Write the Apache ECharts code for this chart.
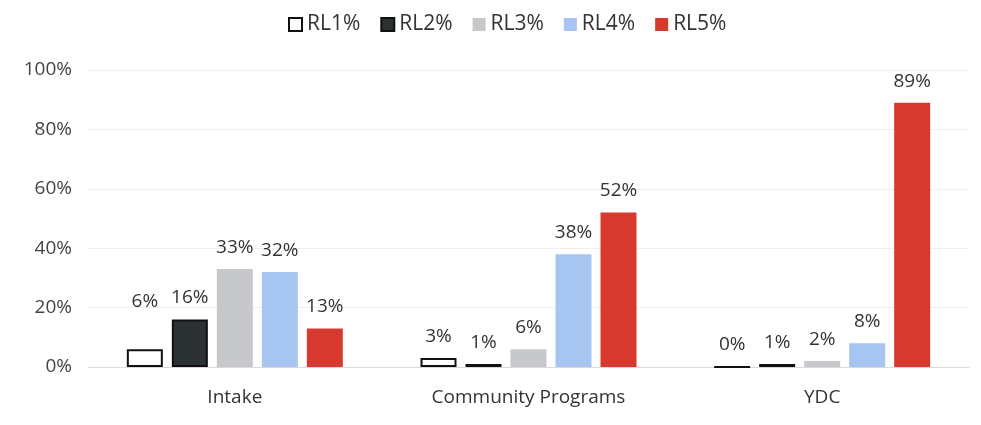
<!DOCTYPE html>
<html>
<head>
<meta charset="utf-8">
<script src="https://cdn.jsdelivr.net/npm/echarts@6/dist/echarts.min.js"></script>
<style>
  html, body { margin: 0; padding: 0; background: #fff; }
  #chart { width: 981px; height: 425px; }
</style>
</head>
<body>
<div id="chart"></div>
<script>
// Share of youth at each risk level, by setting
const categories = ['Intake', 'Community Programs', 'YDC'];
const seriesNames = ['RL1%', 'RL2%', 'RL3%', 'RL4%', 'RL5%'];
const rl1 = [6, 3, 0];
const rl2 = [16, 1, 1];
const rl3 = [33, 6, 2];
const rl4 = [32, 38, 8];
const rl5 = [13, 52, 89];
const yTicks = [0, 20, 40, 60, 80, 100];

const values = [rl1, rl2, rl3, rl4, rl5];
const fills = ['#ffffff', '#2c3133', '#c7c8cc', '#a7c5f1', '#d63a2f'];
const borders = ['#111111', '#111111', '#c7c8cc', '#a7c5f1', '#d63a2f'];
const fontFamily = 'Open Sans, sans-serif';
const fontSize = 19;

const series = seriesNames.map((name, i) => ({
  name: name,
  type: 'bar',
  barWidth: 36,
  barGap: '25%',
  itemStyle: {
    color: fills[i],
    borderColor: borders[i],
    borderWidth: i < 2 ? 2 : 0
  },
  label: {
    show: true,
    position: 'top',
    distance: 12,
    formatter: p => p.value + '%',
    color: '#333',
    fontFamily: fontFamily,
    fontSize: fontSize
  },
  data: values[i].map((v, j) => {
    // lift the small Intake RL1 label clear of its neighbours
    if (i === 0 && j === 0) {
      return { value: v, label: { offset: [0, -26] } };
    }
    return v;
  })
}));

const chart = echarts.init(document.getElementById('chart'), null, { renderer: 'canvas' });
chart.setOption({
  animation: false,
  backgroundColor: '#ffffff',
  textStyle: { fontFamily: fontFamily },
  legend: {
    top: 9,
    left: 283,
    itemWidth: 13,
    itemHeight: 13,
    itemGap: 20,
    icon: 'rect',
    textStyle: { color: '#333', fontSize: 21, fontFamily: fontFamily },
    data: seriesNames.map((n, i) => ({
      name: n,
      itemStyle: { color: fills[i], borderColor: i < 2 ? '#111' : fills[i], borderWidth: i < 2 ? 2 : 0 }
    }))
  },
  grid: { left: 88, right: 12, top: 70, bottom: 58 },
  xAxis: {
    type: 'category',
    data: categories,
    axisTick: { show: false },
    axisLine: { lineStyle: { color: '#d9d9d9', width: 1 } },
    axisLabel: { color: '#333', fontSize: fontSize, margin: 21, fontFamily: fontFamily }
  },
  yAxis: {
    type: 'value',
    min: yTicks[0],
    max: yTicks[yTicks.length - 1],
    interval: yTicks[1] - yTicks[0],
    axisLabel: { formatter: '{value}%', color: '#444', fontSize: fontSize, margin: 16, fontFamily: fontFamily },
    axisLine: { show: false },
    axisTick: { show: false },
    splitLine: { lineStyle: { color: '#efefef', width: 1 } }
  },
  series: series
});
</script>
</body>
</html>
